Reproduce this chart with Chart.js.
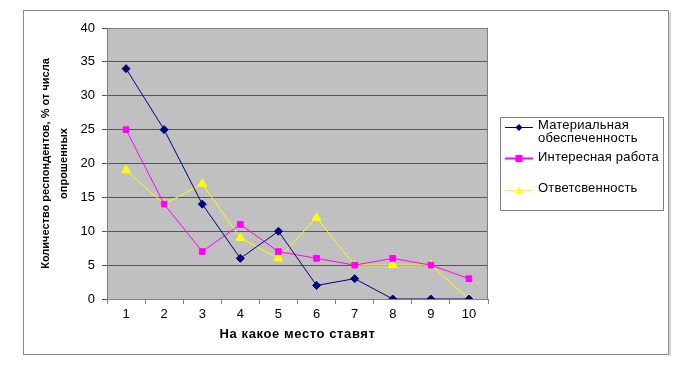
<!DOCTYPE html>
<html><head><meta charset="utf-8">
<script src="https://cdn.jsdelivr.net/npm/chart.js@4"></script>
<style>html,body{margin:0;padding:0;background:#fff}#wrap{width:693px;height:365px}</style>
</head><body><div id="wrap"><canvas id="c" width="693" height="365"></canvas></div>
<script>
const categories = ['1','2','3','4','5','6','7','8','9','10'];
const seriesNames = [['Материальная','обеспеченность'], ['Интересная работа'], ['Ответсвенность']];
const material = [34, 25, 14, 6, 10, 2, 3, 0, 0, 0];
const interesting = [25, 14, 7, 11, 7, 6, 5, 6, 5, 3];
const responsibility = [19, 14, 17, 9, 6, 12, 5, 5, 5, 0];
const yTicks = [0, 5, 10, 15, 20, 25, 30, 35, 40];
const xTitle = 'На какое место ставят';
const yTitle = ['Количество респондентов, % от числа', 'опрошенных'];

const FONT = 'Arial, "Liberation Sans", sans-serif';

const decor = {
  id: 'decor',
  beforeDraw(chart) {
    const {ctx, chartArea: a} = chart;
    ctx.save();
    ctx.fillStyle = '#fff';
    ctx.fillRect(0, 0, chart.width, chart.height);
    ctx.fillStyle = '#c0c0c0';
    ctx.fillRect(a.left, a.top, a.right - a.left, a.bottom - a.top);
    ctx.restore();
  },
  afterDraw(chart) {
    const {ctx, chartArea: a} = chart;
    ctx.save();
    ctx.strokeStyle = '#d8d8d8';
    ctx.lineWidth = 2;
    ctx.beginPath(); ctx.moveTo(670, 12); ctx.lineTo(670, 356); ctx.stroke();
    ctx.strokeStyle = '#8a8a8a';
    ctx.lineWidth = 1;
    ctx.strokeRect(23.5, 10.5, 645, 344);
    ctx.strokeStyle = '#808080';
    ctx.beginPath();
    ctx.moveTo(Math.round(a.left) + 0.5, a.top + 0.5);
    ctx.lineTo(Math.round(a.right) - 0.5, a.top + 0.5);
    ctx.lineTo(Math.round(a.right) - 0.5, a.bottom);
    ctx.stroke();
    ctx.fillStyle = '#000';
    ctx.font = 'bold 13px ' + FONT;
    ctx.letterSpacing = '0.6px';
    ctx.textAlign = 'center';
    ctx.textBaseline = 'middle';
    ctx.fillText(xTitle, (a.left + a.right) / 2, 334);
    ctx.letterSpacing = '0px';
    const cy = (a.top + a.bottom) / 2;
    ctx.translate(46, cy);
    ctx.rotate(-Math.PI / 2);
    ctx.font = 'bold 11px ' + FONT;
    ctx.fillText(yTitle[0], 0, 0);
    ctx.fillText(yTitle[1], 0, 18);
    ctx.restore();
    ctx.save();
    ctx.strokeStyle = '#808080';
    ctx.lineWidth = 1;
    ctx.strokeRect(500.5, 117.5, 163, 93);
    const rows = [[127, 125], [158, 157], [190, 188]];
    ctx.font = '13px ' + FONT;
    ctx.letterSpacing = '0.2px';
    ctx.textAlign = 'left';
    ctx.textBaseline = 'middle';
    chart.data.datasets.forEach((ds, i) => {
      const ly = rows[i][0];
      ctx.strokeStyle = ds.borderColor;
      ctx.lineWidth = i === 1 ? 2 : 1;
      ctx.beginPath(); ctx.moveTo(505, ly + 0.5); ctx.lineTo(533, ly + 0.5); ctx.stroke();
      ctx.fillStyle = ds.pointBackgroundColor;
      const x = 519, y = ly + 0.5, r = 3.5;
      ctx.beginPath();
      if (ds.pointStyle === 'rectRot') { ctx.moveTo(x, y - r); ctx.lineTo(x + r, y); ctx.lineTo(x, y + r); ctx.lineTo(x - r, y); }
      else if (ds.pointStyle === 'rect') { ctx.rect(x - 3.5, y - 3.5, 7, 7); }
      else { ctx.moveTo(x, y - 4); ctx.lineTo(x + 4, y + 3); ctx.lineTo(x - 4, y + 3); }
      ctx.closePath(); ctx.fill();
      ctx.fillStyle = '#000';
      seriesNames[i].forEach((t, j) => ctx.fillText(t, 538, rows[i][1] + j * 13));
    });
    ctx.restore();
  }
};

new Chart(document.getElementById('c'), {
  type: 'line',
  data: {
    labels: categories,
    datasets: [
      { label: seriesNames[0].join(' '), data: material, borderColor: '#000080', backgroundColor: '#000080',
        pointBackgroundColor: '#000080', pointBorderColor: '#000080', pointStyle: 'rectRot', pointRadius: 4, borderWidth: 1 },
      { label: seriesNames[1].join(' '), data: interesting, borderColor: '#ff00ff', backgroundColor: '#ff00ff',
        pointBackgroundColor: '#ff00ff', pointBorderColor: '#ff00ff', pointStyle: 'rect', pointRadius: 4, borderWidth: 1 },
      { label: seriesNames[2].join(' '), data: responsibility, borderColor: '#ffff00', backgroundColor: '#ffff00',
        pointBackgroundColor: '#ffff00', pointBorderColor: '#ffff00', pointStyle: 'triangle', pointRadius: 5, borderWidth: 1 }
    ]
  },
  options: {
    responsive: false,
    animation: false,
    layout: { padding: { left: 0, right: 205, top: 28, bottom: 0 } },
    plugins: { legend: { display: false }, tooltip: { enabled: false } },
    elements: { line: { tension: 0 }, point: { borderWidth: 0 } },
    scales: {
      x: {
        type: 'category',
        offset: true,
        grid: { offset: true, drawOnChartArea: false, drawTicks: true, tickLength: 5, color: '#808080' },
        border: { color: '#808080' },
        ticks: { color: '#000', font: { family: FONT, size: 13 }, padding: 3, maxRotation: 0 },
        afterFit(s) { s.height = 66; }
      },
      y: {
        min: 0, max: 40,
        afterBuildTicks(s) { s.ticks = yTicks.map(v => ({ value: v })); },
        grid: { color: '#555555', tickLength: 5 },
        border: { color: '#808080' },
        ticks: { color: '#000', font: { family: FONT, size: 13 }, padding: 7 },
        afterFit(s) { s.width = 107; }
      }
    }
  },
  plugins: [decor]
});
</script></body></html>
